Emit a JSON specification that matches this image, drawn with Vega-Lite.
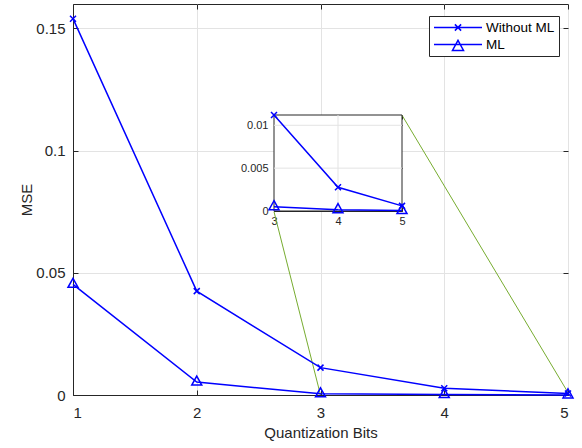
{
  "$schema": "https://vega.github.io/schema/vega-lite/v6.json",
  "width": 495,
  "height": 391,
  "autosize": "none",
  "padding": {"left": 73, "top": 4, "right": 14, "bottom": 53},
  "background": "white",
  "config": {
    "font": "Liberation Sans",
    "view": {"stroke": "#262626", "strokeWidth": 1},
    "axis": {
      "domainColor": "#262626",
      "tickColor": "#262626",
      "labelColor": "#262626",
      "titleColor": "#262626",
      "gridColor": "#e3e3e3",
      "labelFont": "Liberation Sans",
      "titleFont": "Liberation Sans",
      "labelFontSize": 15,
      "titleFontSize": 15,
      "titleFontWeight": "normal",
      "tickSize": -5,
      "domainWidth": 1,
      "tickWidth": 1
    },
    "legend": {
      "labelFont": "Liberation Sans",
      "labelFontSize": 13.5,
      "labelColor": "#000000"
    }
  },
  "datasets": {
    "mse": [
      {"x": 1, "series": "Without ML", "mse": 0.154},
      {"x": 2, "series": "Without ML", "mse": 0.0425},
      {"x": 3, "series": "Without ML", "mse": 0.0112},
      {"x": 4, "series": "Without ML", "mse": 0.00277},
      {"x": 5, "series": "Without ML", "mse": 0.0006},
      {"x": 1, "series": "ML", "mse": 0.0453},
      {"x": 2, "series": "ML", "mse": 0.0053},
      {"x": 3, "series": "ML", "mse": 0.0005},
      {"x": 4, "series": "ML", "mse": 0.00016},
      {"x": 5, "series": "ML", "mse": 0.00005}
    ],
    "links": [
      {"link": "a", "x": 2.6242, "mse": 0.07503},
      {"link": "a", "x": 3, "mse": 0},
      {"link": "b", "x": 3.6586, "mse": 0.11449},
      {"link": "b", "x": 5, "mse": 0.001}
    ],
    "insetGrid": [
      {"axis": "x", "x": 4, "x2": 4, "mse": 0, "mse2": 0.0112},
      {"axis": "y", "x": 3, "x2": 5, "mse": 0.005, "mse2": 0.005},
      {"axis": "y", "x": 3, "x2": 5, "mse": 0.01, "mse2": 0.01}
    ]
  },
  "layer": [
    {
      "encoding": {
        "x": {
          "field": "x", "type": "quantitative",
          "scale": {"domain": [1, 5], "nice": false},
          "axis": {"values": [1, 2, 3, 4, 5], "title": "Quantization Bits", "grid": true, "labelPadding": 15, "titlePadding": 5}
        },
        "y": {
          "field": "mse", "type": "quantitative",
          "scale": {"domain": [0, 0.16], "nice": false},
          "axis": {"values": [0, 0.05, 0.1, 0.15], "format": "~g", "title": "MSE", "grid": true, "labelPadding": 13, "titlePadding": 1}
        }
      },
      "layer": [
        {
          "data": {"name": "links"},
          "mark": {"type": "line", "color": "#77ac30", "strokeWidth": 1},
          "encoding": {"detail": {"field": "link"}}
        },
        {
          "data": {"name": "mse"},
          "mark": {"type": "line", "color": "#0000ff", "strokeWidth": 1.5},
          "encoding": {"detail": {"field": "series"}}
        },
        {
          "data": {"name": "mse"},
          "transform": [{"filter": "datum.series === 'Without ML'"}],
          "mark": {"type": "point", "filled": false, "color": "#0000ff", "strokeWidth": 1.5, "opacity": 1, "size": 100, "shape": "M-0.6,-0.6L0.6,0.6M-0.6,0.6L0.6,-0.6"}
        },
        {
          "data": {"name": "mse"},
          "transform": [{"filter": "datum.series === 'ML'"}],
          "mark": {"type": "point", "filled": false, "color": "#0000ff", "strokeWidth": 1.5, "opacity": 1, "size": 100, "shape": "M0,-1.2L1,0.6L-1,0.6Z"}
        },
        {
          "data": {"name": "mse"},
          "transform": [{"filter": "datum.x > 100"}],
          "mark": {"type": "point", "filled": false, "strokeWidth": 1.5, "opacity": 1},
          "encoding": {
            "color": {
              "field": "series", "type": "nominal",
              "scale": {"domain": ["Without ML", "ML"], "range": ["#0000ff", "#0000ff"]},
              "legend": {
                "title": null,
                "orient": "none",
                "legendX": 356,
                "legendY": 12,
                "strokeColor": "#262626",
                "fillColor": "white",
                "padding": 4,
                "symbolSize": 2304,
                "symbolStrokeWidth": 1.5,
                "symbolOpacity": 1,
                "symbolFillColor": "transparent",
                "symbolType": {"expr": "datum.value === 'ML' ? 'M-1,0H1M0,-0.17L0.23,0.25L-0.23,0.25Z' : 'M-1,0H1M-0.13,-0.13L0.13,0.13M-0.13,0.13L0.13,-0.13'"},
                "labelOffset": 3,
                "rowPadding": 2,
                "clipHeight": 15
              }
            }
          }
        }
      ]
    },
    {
      "data": {"name": "mse"},
      "mark": {"type": "point", "opacity": 0},
      "encoding": {
        "x": {
          "field": "x", "type": "quantitative",
          "scale": {"domain": [1, 5], "nice": false},
          "axis": {"orient": "top", "values": [1, 2, 3, 4, 5], "labels": false, "title": null, "grid": false, "domain": false}
        },
        "y": {
          "field": "mse", "type": "quantitative",
          "scale": {"domain": [0, 0.16], "nice": false},
          "axis": {"orient": "right", "values": [0, 0.05, 0.1, 0.15], "labels": false, "title": null, "grid": false, "domain": false}
        }
      }
    },
    {
      "data": {"name": "insetGrid"},
      "mark": {"type": "rect", "fill": "white", "stroke": "#262626", "strokeWidth": 1},
      "transform": [{"aggregate": [{"op": "min", "field": "x", "as": "x"}, {"op": "max", "field": "x2", "as": "x2"}, {"op": "min", "field": "mse", "as": "mse"}, {"op": "max", "field": "mse2", "as": "mse2"}]}],
      "encoding": {
        "x": {"field": "x", "type": "quantitative", "scale": {"domain": [3, 5], "range": [201, 329], "nice": false, "zero": false}, "axis": null},
        "x2": {"field": "x2"},
        "y": {"field": "mse", "type": "quantitative", "scale": {"domain": [0, 0.0112], "range": [207, 111], "nice": false}, "axis": null},
        "y2": {"field": "mse2"}
      }
    },
    {
      "data": {"name": "insetGrid"},
      "mark": {"type": "rule", "color": "#e3e3e3", "strokeWidth": 1},
      "encoding": {
        "x": {"field": "x", "type": "quantitative", "scale": {"domain": [3, 5], "range": [201, 329], "nice": false, "zero": false}, "axis": null},
        "x2": {"field": "x2"},
        "y": {"field": "mse", "type": "quantitative", "scale": {"domain": [0, 0.0112], "range": [207, 111], "nice": false}, "axis": null},
        "y2": {"field": "mse2"}
      }
    },
    {
      "data": {"name": "mse"},
      "transform": [{"filter": "datum.x >= 3"}],
      "mark": {"type": "point", "opacity": 0},
      "encoding": {
        "x": {
          "field": "x", "type": "quantitative",
          "scale": {"domain": [3, 5], "range": [201, 329], "nice": false, "zero": false},
          "axis": {"orient": "top", "offset": -111, "values": [3, 4, 5], "labels": false, "title": null, "grid": false, "domain": false, "tickSize": -4}
        },
        "y": {
          "field": "mse", "type": "quantitative",
          "scale": {"domain": [0, 0.0112], "range": [207, 111], "nice": false},
          "axis": {"orient": "right", "offset": -166, "values": [0, 0.005, 0.01], "labels": false, "title": null, "grid": false, "domain": false, "tickSize": -4}
        }
      }
    },
    {
      "encoding": {
        "x": {
          "field": "x", "type": "quantitative",
          "scale": {"domain": [3, 5], "range": [201, 329], "nice": false, "zero": false},
          "axis": {"orient": "bottom", "offset": -184, "values": [3, 4, 5], "format": "~g", "title": null, "grid": false, "labelFontSize": 11, "tickSize": -4, "labelPadding": 8, "labelFlush": false, "labelOverlap": false}
        },
        "y": {
          "field": "mse", "type": "quantitative",
          "scale": {"domain": [0, 0.0112], "range": [207, 111], "nice": false},
          "axis": {"orient": "left", "offset": -201, "values": [0, 0.005, 0.01], "format": "~g", "title": null, "grid": false, "labelFontSize": 11, "tickSize": -4, "labelPadding": 10, "labelFlush": false, "labelOverlap": false}
        }
      },
      "layer": [
        {
          "data": {"name": "mse"},
          "transform": [{"filter": "datum.x >= 3"}],
          "mark": {"type": "line", "color": "#0000ff", "strokeWidth": 1.5},
          "encoding": {"detail": {"field": "series"}}
        },
        {
          "data": {"name": "mse"},
          "transform": [{"filter": "datum.x >= 3 && datum.series === 'Without ML'"}],
          "mark": {"type": "point", "filled": false, "color": "#0000ff", "strokeWidth": 1.5, "opacity": 1, "size": 100, "shape": "M-0.6,-0.6L0.6,0.6M-0.6,0.6L0.6,-0.6"}
        },
        {
          "data": {"name": "mse"},
          "transform": [{"filter": "datum.x >= 3 && datum.series === 'ML'"}],
          "mark": {"type": "point", "filled": false, "color": "#0000ff", "strokeWidth": 1.5, "opacity": 1, "size": 100, "shape": "M0,-1.2L1,0.6L-1,0.6Z"}
        }
      ]
    }
  ],
  "resolve": {
    "scale": {"x": "independent", "y": "independent"},
    "axis": {"x": "independent", "y": "independent"}
  }
}
